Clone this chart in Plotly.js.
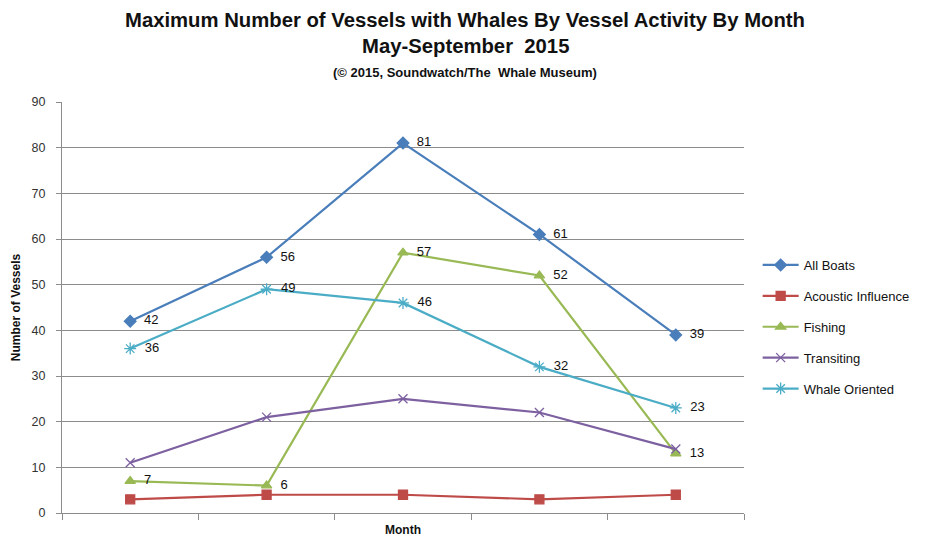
<!DOCTYPE html>
<html>
<head>
<meta charset="utf-8">
<script src="https://cdn.plot.ly/plotly-3.0.1.min.js"></script>
<style>
  html, body { margin: 0; padding: 0; background: #fff; }
  #chart { width: 927px; height: 548px; }
</style>
</head>
<body>
<div id="chart"></div>
<script>
// Months of the 2015 season (May–September)
const months = ["May", "June", "July", "August", "September"];

// Maximum number of vessels with whales, by activity
const allBoats = [42, 56, 81, 61, 39];
const acousticInfluence = [3, 4, 4, 3, 4];
const fishing = [7, 6, 57, 52, 13];
const transiting = [11, 21, 25, 22, 14];
const whaleOriented = [36, 49, 46, 32, 23];

// Title lines
const titleLines = [
  "Maximum Number of Vessels with Whales By Vessel Activity By Month",
  "May-September  2015",
  "(© 2015, Soundwatch/The  Whale Museum)"
];

const baseFont = "Liberation Sans, Arial, sans-serif";
const labelFont = { family: baseFont, size: 13, color: "#111" };

function series(name, values, color, symbol, size, labelled) {
  return {
    type: "scatter",
    name: name,
    legendgroup: name,
    x: months,
    y: values,
    mode: labelled ? "lines+markers+text" : "lines+markers",
    text: labelled ? values.map(v => "  " + v) : undefined,
    textposition: "middle right",
    textfont: labelFont,
    line: { color: color, width: 2.2 },
    marker: {
      color: color,
      symbol: symbol,
      size: size,
      line: { color: color, width: 1.3 }
    },
    cliponaxis: false
  };
}

const data = [
  series("All Boats", allBoats, "#4a7ebb", "diamond", 9, true),
  series("Acoustic Influence", acousticInfluence, "#be4b48", "square", 9, false),
  series("Fishing", fishing, "#98b954", "triangle-up", 9, true),
  series("Transiting", transiting, "#7d60a0", "x-thin-open", 9, false),
  series("Whale Oriented", whaleOriented, "#4bacc6", "asterisk-open", 10, true)
];

// Paper-y for a pixel row measured from the top of the page
const plotTop = 102, plotBottom = 513;
const py = px => (plotBottom - px) / (plotBottom - plotTop);

const layout = {
  width: 927,
  height: 548,
  paper_bgcolor: "#fff",
  plot_bgcolor: "#fff",
  margin: { l: 62, r: 183, t: plotTop, b: 548 - plotBottom },
  font: { family: baseFont, color: "#222" },
  annotations: [
    { text: "<b>" + titleLines[0] + "</b>", size: 20.3, y: 20 },
    { text: "<b>" + titleLines[1] + "</b>", size: 20.3, y: 46 },
    { text: "<b>" + titleLines[2] + "</b>", size: 13, y: 72 }
  ].map(t => ({
    text: t.text,
    xref: "paper", yref: "paper",
    x: (465 - 62) / (927 - 62 - 183),
    y: py(t.y),
    xanchor: "center", yanchor: "middle",
    showarrow: false,
    font: { family: baseFont, size: t.size, color: "#111" }
  })),
  xaxis: {
    type: "category",
    showticklabels: false,
    showgrid: false,
    zeroline: false,
    showline: true,
    linecolor: "#8c8c8c",
    linewidth: 1,
    ticks: "outside",
    tickson: "boundaries",
    ticklen: 6,
    tickcolor: "#8c8c8c",
    range: [-0.5, 4.5],
    title: {
      text: "<b>Month</b>",
      font: { size: 12, color: "#111" },
      standoff: 12
    }
  },
  yaxis: {
    range: [0, 90],
    dtick: 10,
    tick0: 0,
    showgrid: true,
    gridcolor: "#8c8c8c",
    gridwidth: 1,
    zeroline: false,
    showline: true,
    linecolor: "#8c8c8c",
    ticks: "outside",
    ticklen: 5,
    tickcolor: "#8c8c8c",
    ticklabelstandoff: 8,
    tickfont: { size: 12.5, color: "#333" },
    title: {
      text: "<b>Number of Vessels</b>",
      font: { size: 12, color: "#111" },
      standoff: 8
    }
  },
  showlegend: true,
  legend: {
    x: 1.02,
    xanchor: "left",
    y: py(327),
    yanchor: "middle",
    font: { size: 13, color: "#111" },
    traceorder: "grouped",
    tracegroupgap: 11,
    itemwidth: 36,
    bgcolor: "rgba(0,0,0,0)"
  }
};

Plotly.newPlot("chart", data, layout, { displayModeBar: false, staticPlot: true });
</script>
</body>
</html>
